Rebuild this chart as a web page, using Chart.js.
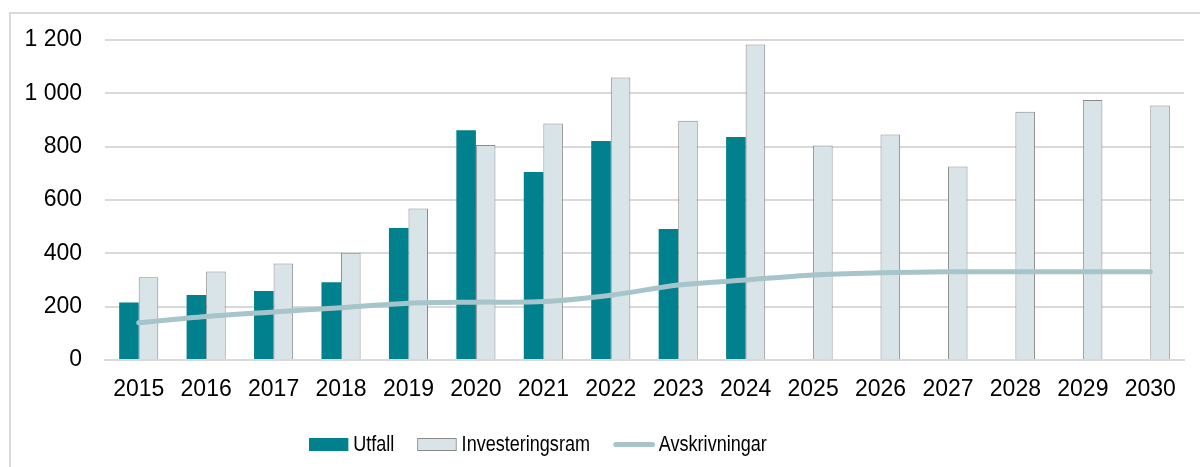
<!DOCTYPE html>
<html>
<head>
<meta charset="utf-8">
<script src="https://cdn.jsdelivr.net/npm/chart.js@4/dist/chart.umd.min.js"></script>
<style>
  html, body { margin: 0; padding: 0; background: #fff; overflow: hidden; }
  body { width: 1200px; height: 467px; position: relative; font-family: "Liberation Sans", Arial, sans-serif; }
  #frame { position: absolute; left: 9px; top: 12px; width: 1300px; height: 500px; border: 2px solid #d9d9d9; }
  #wrap { position: absolute; left: 0; top: 0; width: 1200px; height: 467px; }
  #legend { position: absolute; top: 430px; left: 309px; height: 28px; display: flex; align-items: center;
            font-size: 22px; line-height: 28px; color: #000; transform: scaleX(0.82); transform-origin: 0 50%; white-space: nowrap; }
  .item { display: flex; align-items: center; margin-right: 28px; }
  .swatch { width: 48px; height: 13px; margin-right: 6px; box-sizing: border-box; }
  .lineSwatch { width: 51px; height: 5px; border-radius: 3px; margin-right: 5px; }
</style>
</head>
<body>
<div id="frame"></div>
<div id="wrap"><canvas id="chart" width="1200" height="467"></canvas></div>
<div id="legend"></div>
<script>
document.addEventListener("DOMContentLoaded", function () {
  const years = ["2015", "2016", "2017", "2018", "2019", "2020", "2021", "2022",
                 "2023", "2024", "2025", "2026", "2027", "2028", "2029", "2030"];

  // Utfall (outcome), only up to 2024
  const utfall = [216, 244, 259, 292, 495, 862, 705, 821, 491, 836,
                  null, null, null, null, null, null];

  // Investeringsram
  const investeringsram = [310, 332, 362, 402, 568, 806, 887, 1059,
                           897, 1183, 804, 846, 726, 931, 975, 954];

  // Avskrivningar (line)
  const avskrivningar = [140, 163, 180, 196, 213, 217, 219, 243,
                         281, 300, 319, 327, 331, 331, 331, 331];

  const teal = "#00818d";
  const lightFill = "#d9e4e8";
  const lightBorder = "#8a8a8a";
  const lineColor = "#a6c4c9";
  const gridColor = "#d9d9d9";

  const fmt = (v) => {
    if (v >= 1000) return Math.floor(v / 1000) + " " + String(v % 1000).padStart(3, "0");
    return String(v);
  };

  const tickFont = { family: "'Liberation Sans', Arial, sans-serif", size: 23 };

  const ctx = document.getElementById("chart").getContext("2d");
  const chart = new Chart(ctx, {
    type: "bar",
    data: {
      labels: years,
      datasets: [
        {
          type: "line",
          label: "Avskrivningar",
          data: avskrivningar,
          borderColor: lineColor,
          backgroundColor: lineColor,
          borderWidth: 5,
          borderCapStyle: "round",
          pointRadius: 0,
          tension: 0.3,
          order: 0,
        },
        {
          label: "Utfall",
          data: utfall,
          backgroundColor: teal,
          borderWidth: 0,
          order: 1,
        },
        {
          label: "Investeringsram",
          data: investeringsram,
          backgroundColor: lightFill,
          borderColor: lightBorder,
          borderWidth: 1,
          order: 1,
        },
      ],
    },
    options: {
      responsive: false,
      animation: false,
      layout: { padding: { left: 0, top: 40, right: 16, bottom: 0 } },
      datasets: {
        bar: { categoryPercentage: 0.58, barPercentage: 1.0, grouped: true },
      },
      plugins: {
        legend: { display: false },
        tooltip: { enabled: false },
      },
      scales: {
        x: {
          grid: { display: false, drawTicks: false },
          border: { display: true, color: gridColor, width: 2 },
          ticks: {
            color: "#000",
            padding: 16,
            maxRotation: 0,
            autoSkip: false,
            font: tickFont,
          },
          afterFit: (scale) => { scale.height = 107; },
        },
        y: {
          min: 0,
          max: 1200,
          grid: { color: gridColor, lineWidth: 2, drawTicks: false },
          border: { display: false },
          ticks: {
            stepSize: 200,
            color: "#000",
            padding: 23,
            callback: (v) => fmt(v),
            font: tickFont,
          },
          afterFit: (scale) => { scale.width = 105; },
        },
      },
    },
  });

  // HTML legend in the order of the reference
  const legendOrder = [1, 2, 0];
  const legend = document.getElementById("legend");
  legendOrder.forEach((i) => {
    const ds = chart.data.datasets[i];
    const item = document.createElement("div");
    item.className = "item";
    const sw = document.createElement("span");
    if (ds.type === "line") {
      sw.className = "lineSwatch";
      sw.style.background = ds.borderColor;
    } else {
      sw.className = "swatch";
      sw.style.background = ds.backgroundColor;
      if (ds.borderWidth) sw.style.border = ds.borderWidth + "px solid " + ds.borderColor;
    }
    const txt = document.createElement("span");
    txt.textContent = ds.label;
    item.appendChild(sw);
    item.appendChild(txt);
    legend.appendChild(item);
  });
});
</script>
</body>
</html>
